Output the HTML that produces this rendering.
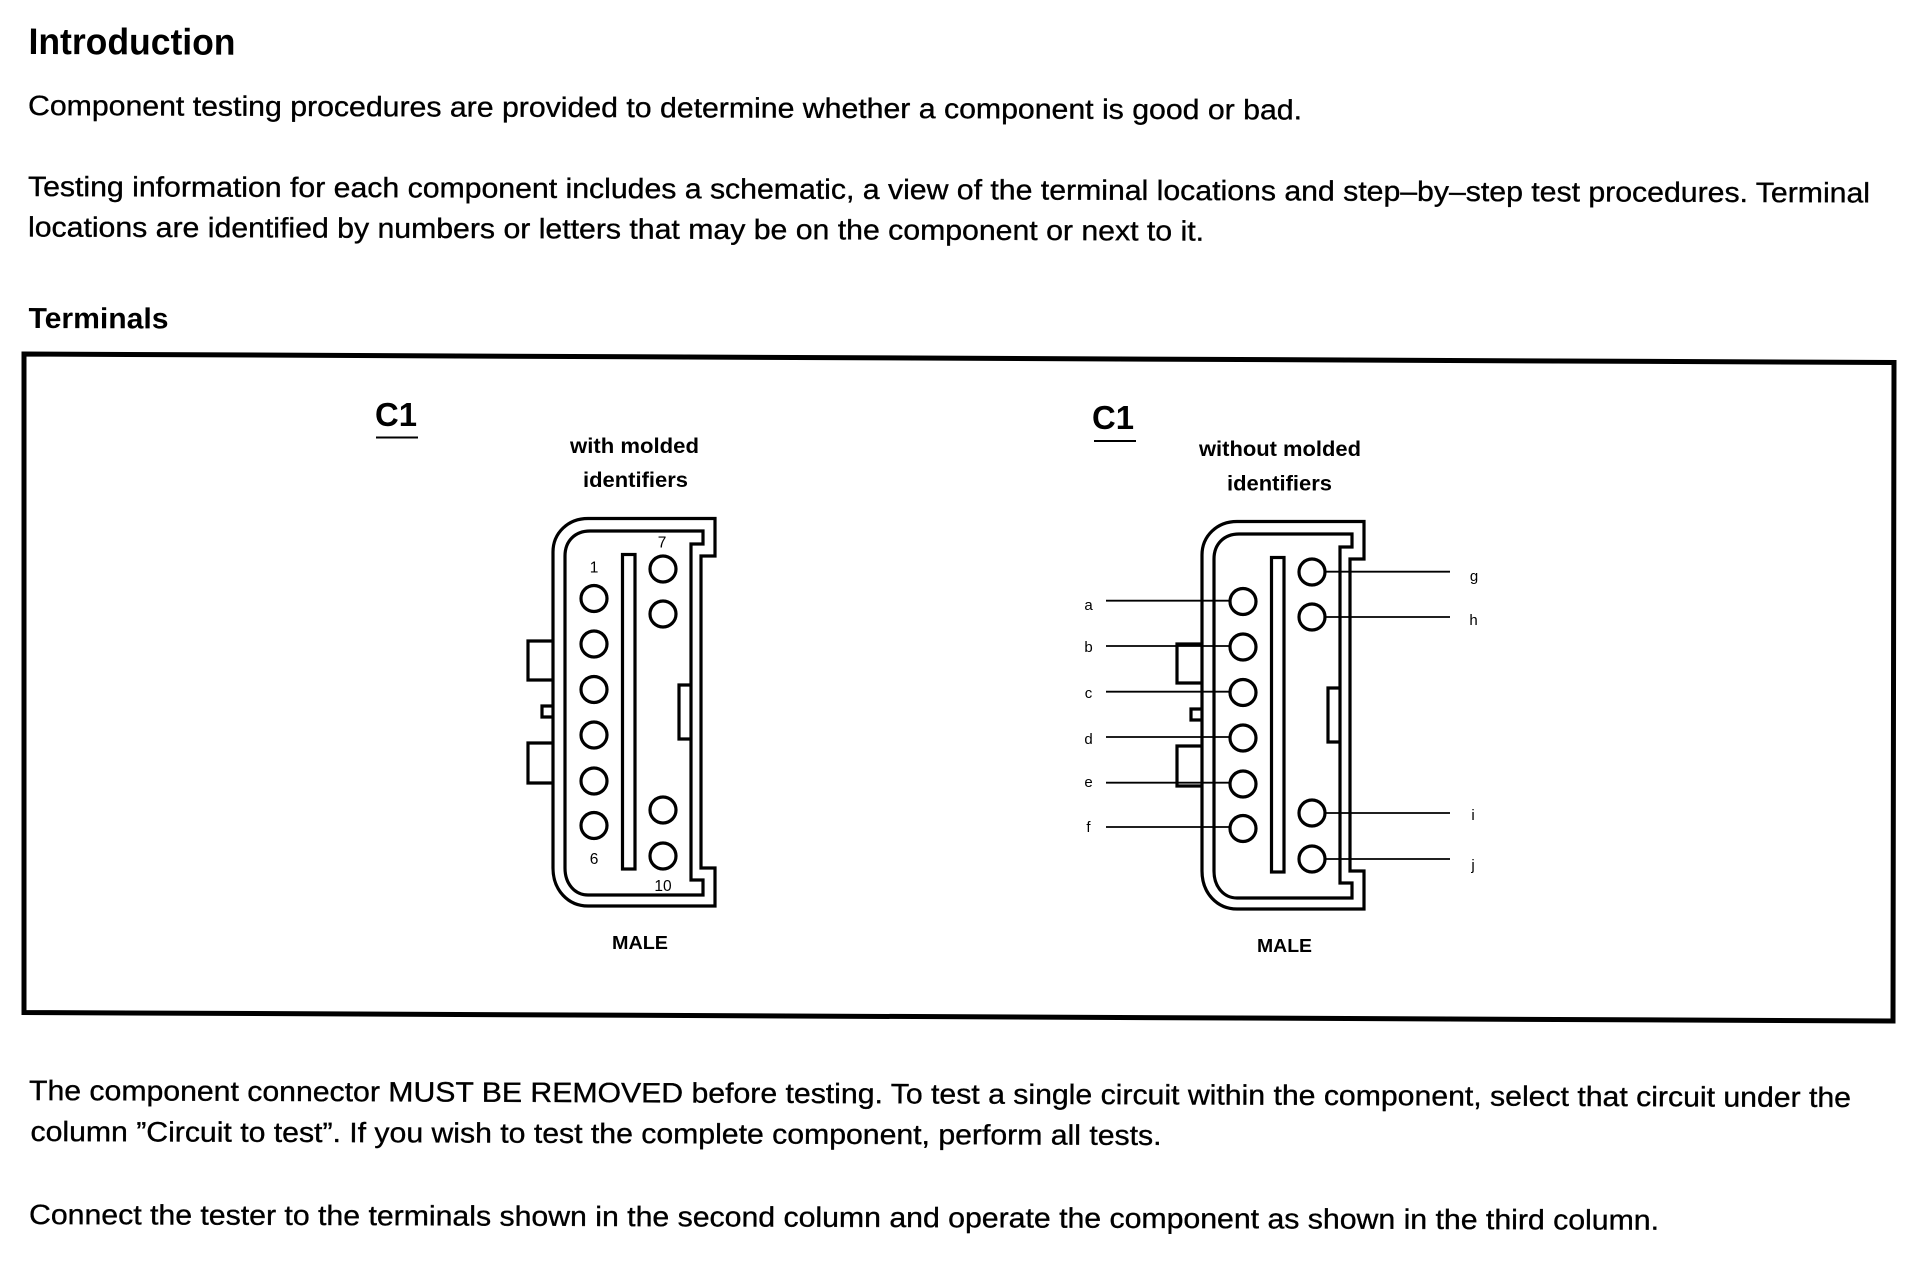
<!DOCTYPE html>
<html><head><meta charset="utf-8"><title>Introduction</title>
<style>
html,body{margin:0;padding:0;background:#fff;width:1922px;height:1264px;overflow:hidden}
svg{display:block}
text{font-family:"Liberation Sans",Arial,sans-serif;fill:#000}
.b{font-size:28px;stroke:#000;stroke-width:.35px}
.h{font-weight:700}
</style></head><body>
<svg width="1922" height="1264" viewBox="0 0 1922 1264" xmlns="http://www.w3.org/2000/svg">
<defs>
<g id="conn" fill="none" stroke="#000" stroke-width="3.200">
<path d="M715 518.500V556H701V868H715V906H588C568 906 553 890 553 868V552C553 533 568 518.500 588 518.500Z"/>
<path d="M703 531V544H691V880H703V895H588C575 895 565 884 565 868V556C565 541 575 531 590 531Z"/>
<rect x="622.500" y="554.500" width="12.500" height="314.500"/>
<path d="M553 641H528V680H553M553 706H542V717H553M553 743H528V783H553M691 685H679V739H691"/>
<g>
<circle cx="594" cy="598.500" r="13"/><circle cx="594" cy="644" r="13"/><circle cx="594" cy="689.500" r="13"/><circle cx="594" cy="735" r="13"/><circle cx="594" cy="781" r="13"/><circle cx="594" cy="825.500" r="13"/>
<circle cx="663" cy="569" r="13"/><circle cx="663" cy="614" r="13"/><circle cx="663" cy="810" r="13"/><circle cx="663" cy="856" r="13"/>
</g>
</g>
</defs>

<text class="h" x="28.500" y="54" font-size="37" textLength="207" lengthAdjust="spacingAndGlyphs" transform="rotate(.2 29 54)">Introduction</text>
<text class="b" x="28" y="115" textLength="1274" lengthAdjust="spacingAndGlyphs" transform="rotate(.2 28 115)">Component testing procedures are provided to determine whether a component is good or bad.</text>
<text class="b" x="28" y="196" textLength="1842" lengthAdjust="spacingAndGlyphs" transform="rotate(.2 28 196)">Testing information for each component includes a schematic, a view of the terminal locations and step–by–step test procedures. Terminal</text>
<text class="b" x="28" y="236.500" textLength="1176" lengthAdjust="spacingAndGlyphs" transform="rotate(.2 28 237)">locations are identified by numbers or letters that may be on the component or next to it.</text>
<text class="h" x="28.500" y="328" font-size="29" textLength="140" lengthAdjust="spacingAndGlyphs" transform="rotate(.2 29 328)">Terminals</text>

<path d="M24 354L1894 362.500L1893 1021L24 1012.500Z" fill="none" stroke="#000" stroke-width="5"/>

<text class="h" x="375" y="426" font-size="33" textLength="42" lengthAdjust="spacingAndGlyphs">C1</text>
<path d="M376 437.500H418" stroke="#000" stroke-width="2"/>
<text class="h" x="1092" y="429" font-size="33" textLength="42" lengthAdjust="spacingAndGlyphs">C1</text>
<path d="M1094 441H1136" stroke="#000" stroke-width="2"/>

<text class="h" x="570" y="453" font-size="21" textLength="129" lengthAdjust="spacingAndGlyphs">with molded</text>
<text class="h" x="583" y="487" font-size="21" textLength="105" lengthAdjust="spacingAndGlyphs">identifiers</text>
<text class="h" x="1199" y="456" font-size="21" textLength="162" lengthAdjust="spacingAndGlyphs">without molded</text>
<text class="h" x="1227" y="490.500" font-size="21" textLength="105" lengthAdjust="spacingAndGlyphs">identifiers</text>

<use href="#conn"/>
<use href="#conn" transform="translate(649 3)"/>

<g font-size="15.500" text-anchor="middle">
<text x="594" y="572.500">1</text>
<text x="662" y="547.500">7</text>
<text x="594" y="864">6</text>
<text x="663" y="891">10</text>
</g>

<path d="M1106 600.700H1230M1106 646H1230M1106 691.700H1230M1106 737H1230M1106 782.700H1230M1106 827H1230M1325 571.700H1450M1325 617H1450M1325 813H1450M1325 859H1450" stroke="#000" stroke-width="1.800" fill="none"/>
<g font-size="15" text-anchor="middle">
<text x="1088.500" y="610">a</text><text x="1088.500" y="652">b</text><text x="1088.500" y="698">c</text><text x="1088.500" y="744">d</text><text x="1088.500" y="787">e</text><text x="1088.500" y="832">f</text>
<text x="1474" y="581">g</text><text x="1473.500" y="625">h</text><text x="1473" y="820">i</text><text x="1473" y="870">j</text>
</g>

<text class="h" x="612" y="949" font-size="18" textLength="56" lengthAdjust="spacingAndGlyphs">MALE</text>
<text class="h" x="1257" y="952" font-size="18" textLength="55" lengthAdjust="spacingAndGlyphs">MALE</text>

<text class="b" x="29" y="1100" textLength="1822" lengthAdjust="spacingAndGlyphs" transform="rotate(.22 29 1100)">The component connector MUST BE REMOVED before testing. To test a single circuit within the component, select that circuit under the</text>
<text class="b" x="30.500" y="1141" textLength="1131" lengthAdjust="spacingAndGlyphs" transform="rotate(.2 31 1141)">column ”Circuit to test”. If you wish to test the complete component, perform all tests.</text>
<text class="b" x="29" y="1224" textLength="1630" lengthAdjust="spacingAndGlyphs" transform="rotate(.2 29 1224)">Connect the tester to the terminals shown in the second column and operate the component as shown in the third column.</text>
</svg>
</body></html>
